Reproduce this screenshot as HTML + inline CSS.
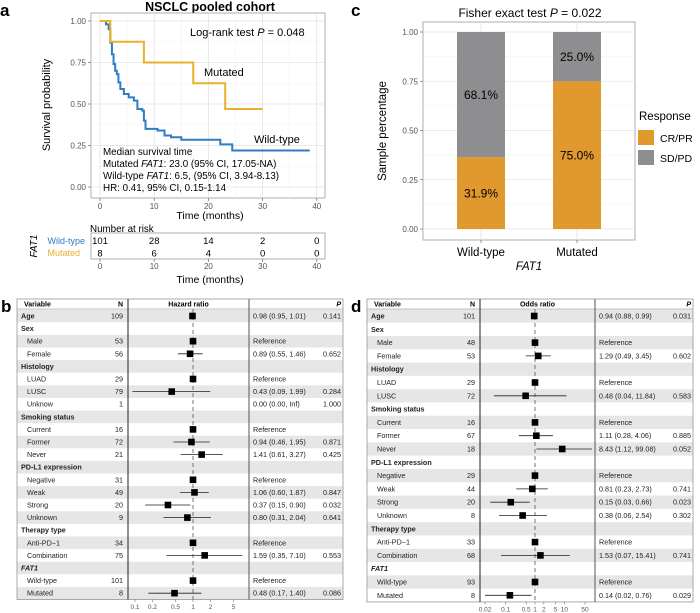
<!DOCTYPE html>
<html><head><meta charset="utf-8"><style>
body{margin:0;background:#fff}
svg{font-family:"Liberation Sans",Arial,sans-serif;display:block}
</style></head><body>
<svg id="fig" width="700" height="613" viewBox="0 0 700 613" xmlns="http://www.w3.org/2000/svg">
<g id="pa"></g>
<g id="pc"></g>
<g id="pb"></g>
<g id="pd"></g>
</svg>
<script>
// ---------- Panel a data ----------
const wtTimes=[0,1.1,1.6,1.9,2.2,2.5,2.8,3.1,3.4,3.75,4.4,5.3,6.25,6.9,7.8,8.1,8.4,10.6,11.9,13.1,15,22.2,24.4,38.7];
const wtSurv=[1,0.98,0.95,0.87,0.80,0.74,0.70,0.68,0.63,0.59,0.56,0.54,0.52,0.47,0.46,0.40,0.35,0.34,0.31,0.30,0.285,0.257,0.22,0.22];
const mutTimes=[0,1.9,8.1,17.2,23.1,30];
const mutSurv=[1,0.875,0.75,0.625,0.47,0.47];
const kmXTicks=[0,10,20,30,40];
const kmYTicks=[0,0.25,0.5,0.75,1];
const riskWT=[101,28,14,2,0];
const riskMut=[8,6,4,0,0];
// ---------- Panel c data ----------
const barCats=["Wild-type","Mutated"];
const crpr=[0.365,0.75];
const crprLabels=["31.9%","75.0%"];
const sdpdLabels=["68.1%","25.0%"];
const barYTicks=[0,0.25,0.5,0.75,1];
// ---------- Forest data ----------
const fVars=["Age","Sex","Male","Female","Histology","LUAD","LUSC","Unknow","Smoking status","Current","Former","Never","PD-L1 expression","Negative","Weak","Strong","Unknown","Therapy type","Anti-PD\u22121","Combination","FAT1","Wild-type","Mutated"];
const bN=["109","","53","56","","29","79","1","","16","72","21","","31","49","20","9","","34","75","","101","8"];
const bEst=[0.98,null,1,0.89,null,1,0.43,null,null,1,0.94,1.41,null,1,1.06,0.37,0.80,null,1,1.59,null,1,0.48];
const bLo=[0.95,null,null,0.55,null,null,0.09,null,null,null,0.46,0.61,null,null,0.60,0.15,0.31,null,null,0.35,null,null,0.17];
const bHi=[1.01,null,null,1.46,null,null,1.99,null,null,null,1.95,3.27,null,null,1.87,0.90,2.04,null,null,7.10,null,null,1.40];
const bTxt=["0.98 (0.95, 1.01)","","Reference","0.89 (0.55, 1.46)","","Reference","0.43 (0.09, 1.99)","0.00 (0.00, Inf)","","Reference","0.94 (0.46, 1.95)","1.41 (0.61, 3.27)","","Reference","1.06 (0.60, 1.87)","0.37 (0.15, 0.90)","0.80 (0.31, 2.04)","","Reference","1.59 (0.35, 7.10)","","Reference","0.48 (0.17, 1.40)"];
const bP=["0.141","","","0.652","","","0.284","1.000","","","0.871","0.425","","","0.847","0.032","0.641","","","0.553","","","0.086"];
const bTicks=[0.1,0.2,0.5,1,2,5];
const dVars=["Age","Sex","Male","Female","Histology","LUAD","LUSC","Smoking status","Current","Former","Never","PD-L1 expression","Negative","Weak","Strong","Unknown","Therapy type","Anti-PD\u22121","Combination","FAT1","Wild-type","Mutated"];
const dN=["101","","48","53","","29","72","","16","67","18","","29","44","20","8","","33","68","","93","8"];
const dEst=[0.94,null,1,1.29,null,1,0.48,null,1,1.11,8.43,null,1,0.81,0.15,0.38,null,1,1.53,null,1,0.14];
const dLo=[0.88,null,null,0.49,null,null,0.04,null,null,0.28,1.12,null,null,0.23,0.03,0.06,null,null,0.07,null,null,0.02];
const dHi=[0.99,null,null,3.45,null,null,11.84,null,null,4.06,99.08,null,null,2.73,0.66,2.54,null,null,15.41,null,null,0.76];
const dTxt=["0.94 (0.88, 0.99)","","Reference","1.29 (0.49, 3.45)","","Reference","0.48 (0.04, 11.84)","","Reference","1.11 (0.28, 4.06)","8.43 (1.12, 99.08)","","Reference","0.81 (0.23, 2.73)","0.15 (0.03, 0.66)","0.38 (0.06, 2.54)","","Reference","1.53 (0.07, 15.41)","","Reference","0.14 (0.02, 0.76)"];
const dP=["0.031","","","0.602","","","0.583","","","0.885","0.052","","","0.741","0.023","0.302","","","0.741","","","0.029"];
const dTicks=[0.02,0.1,0.5,1,2,5,10,50];
const bHeaders=["Sex","Histology","Smoking status","PD-L1 expression","Therapy type","FAT1"];

const NS="http://www.w3.org/2000/svg";
function mk(parent,tag,attrs,text){const e=document.createElementNS(NS,tag);for(const k in attrs)e.setAttribute(k,attrs[k]);if(text!==undefined)e.textContent=text;parent.appendChild(e);return e;}

// ================= Panel a =================
(function(){
const g=document.getElementById('pa');
const t=mk(g,'text',{x:0,y:16,'font-size':17,'font-weight':'bold'},'a');


const tt=mk(g,'text',{x:210,y:11,'font-size':12.5,'font-weight':'bold','text-anchor':'middle'},'NSCLC pooled cohort');


const X=v=>100+v*5.42, Y=v=>187-v*166;
mk(g,'rect',{x:91,y:13,width:234,height:185,fill:'#fff',stroke:'#999','stroke-width':0.8});
[5,15,25,35].forEach(v=>mk(g,'line',{x1:X(v),x2:X(v),y1:13,y2:198,stroke:'#f0f0f0','stroke-width':0.6}));
[0.125,0.375,0.625,0.875].forEach(v=>mk(g,'line',{x1:91,x2:325,y1:Y(v),y2:Y(v),stroke:'#f0f0f0','stroke-width':0.6}));
kmXTicks.forEach(v=>{mk(g,'line',{x1:X(v),x2:X(v),y1:13,y2:198,stroke:'#e3e3e3','stroke-width':0.8});
 mk(g,'line',{x1:X(v),x2:X(v),y1:198,y2:201,stroke:'#555','stroke-width':0.6});
 mk(g,'text',{x:X(v),y:209,'font-size':8,fill:'#555','text-anchor':'middle'},String(v));});
kmYTicks.forEach(v=>{mk(g,'line',{x1:91,x2:325,y1:Y(v),y2:Y(v),stroke:'#e3e3e3','stroke-width':0.8});
 mk(g,'line',{x1:88,x2:91,y1:Y(v),y2:Y(v),stroke:'#555','stroke-width':0.6});
 mk(g,'text',{x:86,y:Y(v)+3,'font-size':8,fill:'#555','text-anchor':'end'},v.toFixed(2));});
function step(ts,ss,color,name){let d=`M${X(ts[0])},${Y(ss[0])}`;for(let i=1;i<ts.length;i++){d+=` H${X(ts[i])} V${Y(ss[i])}`;}
 const p=mk(g,'path',{d:d,fill:'none',stroke:color,'stroke-width':2});
 
 }
step(wtTimes,wtSurv,'#2f7dc3','km-curve-wild-type');
step(mutTimes,mutSurv,'#e8b12a','km-curve-mutated');
mk(g,'text',{x:50,y:105,'font-size':11,'text-anchor':'middle',transform:'rotate(-90 50 105)'},'Survival probability');
mk(g,'text',{x:210,y:219,'font-size':10.5,'text-anchor':'middle'},'Time (months)');
mk(g,'text',{x:190,y:36,'font-size':11}).innerHTML='Log-rank test <tspan font-style="italic">P</tspan> = 0.048';
mk(g,'text',{x:204,y:76,'font-size':11},'Mutated');
mk(g,'text',{x:254,y:143,'font-size':11},'Wild-type');
const lines=['Median survival time','Mutated <tspan font-style="italic">FAT1</tspan>: 23.0 (95% CI, 17.05-NA)','Wild-type <tspan font-style="italic">FAT1</tspan>: 6.5, (95% CI, 3.94-8.13)','HR: 0.41, 95% CI, 0.15-1.14'];
lines.forEach((l,i)=>{const e=mk(g,'text',{x:103,y:155+i*12,'font-size':9.8});e.innerHTML=l;});
// risk table
mk(g,'text',{x:90,y:232,'font-size':9.8},'Number at risk');
mk(g,'rect',{x:91,y:233,width:234,height:26,fill:'#fff',stroke:'#999','stroke-width':0.8});
mk(g,'text',{x:85,y:244,'font-size':9,fill:'#2f7dc3','text-anchor':'end'},'Wild-type');
mk(g,'text',{x:80,y:256,'font-size':9,fill:'#e8b12a','text-anchor':'end'},'Mutated');
mk(g,'text',{x:37,y:246,'font-size':10,'font-style':'italic','text-anchor':'middle',transform:'rotate(-90 37 246)'},'FAT1');
kmXTicks.forEach((v,i)=>{mk(g,'text',{x:X(v),y:244,'font-size':9.5,'text-anchor':'middle'},String(riskWT[i]));
 mk(g,'text',{x:X(v),y:256.5,'font-size':9.5,'text-anchor':'middle'},String(riskMut[i]));
 mk(g,'line',{x1:X(v),x2:X(v),y1:259,y2:262,stroke:'#555','stroke-width':0.6});
 mk(g,'text',{x:X(v),y:269,'font-size':8,fill:'#555','text-anchor':'middle'},String(v));});
mk(g,'text',{x:210,y:283,'font-size':10.5,'text-anchor':'middle'},'Time (months)');
})();

// ================= Panel c =================
(function(){
const g=document.getElementById('pc');
const t=mk(g,'text',{x:351,y:16,'font-size':17,'font-weight':'bold'},'c');


const e=mk(g,'text',{x:530,y:17,'font-size':12,'text-anchor':'middle'});e.innerHTML='Fisher exact test <tspan font-style="italic">P</tspan> = 0.022';
const Y=v=>229-v*197;
const cx=[481,577], bw=48;
mk(g,'rect',{x:423,y:22,width:212,height:218,fill:'#fff',stroke:'#999','stroke-width':0.8});
[0.125,0.375,0.625,0.875].forEach(v=>mk(g,'line',{x1:423,x2:635,y1:Y(v),y2:Y(v),stroke:'#f0f0f0','stroke-width':0.6}));
barYTicks.forEach(v=>{mk(g,'line',{x1:423,x2:635,y1:Y(v),y2:Y(v),stroke:'#e3e3e3','stroke-width':0.8});
 mk(g,'line',{x1:420,x2:423,y1:Y(v),y2:Y(v),stroke:'#555','stroke-width':0.6});
 mk(g,'text',{x:418,y:Y(v)+3,'font-size':8,fill:'#555','text-anchor':'end'},v.toFixed(2));});
barCats.forEach((c,i)=>{
 mk(g,'line',{x1:cx[i],x2:cx[i],y1:22,y2:240,stroke:'#e3e3e3','stroke-width':0.8});
 const r1=mk(g,'rect',{x:cx[i]-bw/2,y:Y(crpr[i]),width:bw,height:Y(0)-Y(crpr[i]),fill:'#e0982f'});
 
 
 const r2=mk(g,'rect',{x:cx[i]-bw/2,y:Y(1),width:bw,height:Y(crpr[i])-Y(1),fill:'#8e8e91'});
 
 
 mk(g,'text',{x:cx[i],y:(Y(0)+Y(crpr[i]))/2+4.5,'font-size':12,'text-anchor':'middle'},crprLabels[i]);
 mk(g,'text',{x:cx[i],y:(Y(crpr[i])+Y(1))/2+4.5,'font-size':12,'text-anchor':'middle'},sdpdLabels[i]);
 mk(g,'line',{x1:cx[i],x2:cx[i],y1:240,y2:243,stroke:'#555','stroke-width':0.6});
 mk(g,'text',{x:cx[i],y:256,'font-size':11.5,'text-anchor':'middle'},c);});
mk(g,'text',{x:529,y:270,'font-size':11.5,'font-style':'italic','text-anchor':'middle'},'FAT1');
mk(g,'text',{x:386,y:131,'font-size':11.5,'text-anchor':'middle',transform:'rotate(-90 386 131)'},'Sample percentage');
mk(g,'text',{x:639,y:120,'font-size':11.5},'Response');
mk(g,'rect',{x:638,y:130,width:16,height:15,fill:'#e0982f'});
mk(g,'rect',{x:638,y:150,width:16,height:15,fill:'#8e8e91'});
mk(g,'text',{x:660,y:142,'font-size':10.5},'CR/PR');
mk(g,'text',{x:660,y:162,'font-size':10.5},'SD/PD');
})();

// ================= Forest plots =================
function forest(gid,label,ox,vars,Ns,est,lo,hi,txt,ps,ticks,title,cfg){
 const g=document.getElementById(gid);
 const L=mk(g,'text',{x:ox+1,y:312,'font-size':17,'font-weight':'bold'},label);
 
 
 const left=ox+17,right=ox+343,r0=316,dy=cfg.dy;
 const X=v=>cfg.x1+Math.log10(v)*cfg.dec;
 vars.forEach((v,i)=>{const y=r0+i*dy;
  if(i%2===0) mk(g,'rect',{x:left,y:y-dy/2,width:right-left,height:dy,fill:'#e6e6e6'});});
 const bottom=r0+(vars.length-0.5)*dy;
 mk(g,'rect',{x:left,y:299,width:right-left,height:bottom-299,fill:'none',stroke:'#888','stroke-width':0.7});
 mk(g,'line',{x1:left,x2:right,y1:309,y2:309,stroke:'#888','stroke-width':0.6});
 mk(g,'line',{x1:cfg.d1,x2:cfg.d1,y1:299,y2:bottom,stroke:'#222','stroke-width':1});
 mk(g,'line',{x1:cfg.d2,x2:cfg.d2,y1:299,y2:bottom,stroke:'#555','stroke-width':1});
 mk(g,'text',{x:left+7,y:306.5,'font-size':7,'font-weight':'bold'},'Variable');
 mk(g,'text',{x:cfg.nx,y:306.5,'font-size':7,'font-weight':'bold','text-anchor':'end'},'N');
 mk(g,'text',{x:(cfg.d1+cfg.d2)/2,y:306.5,'font-size':7,'font-weight':'bold','text-anchor':'middle'},title);
 mk(g,'text',{x:right-2,y:306.5,'font-size':7,'font-weight':'bold','font-style':'italic','text-anchor':'end'},'P');
 mk(g,'line',{x1:X(1),x2:X(1),y1:309,y2:bottom,stroke:'#666','stroke-width':0.9,'stroke-dasharray':'4,3'});
 vars.forEach((v,i)=>{const y=r0+i*dy+2.5;
  const hdr=bHeaders.includes(v)||v==='Age';
  mk(g,'text',{x:hdr?left+4:left+10,y:y,'font-size':7.2,'font-weight':hdr?'bold':'normal','font-style':v==='FAT1'?'italic':'normal',fill:'#222'},v);
  mk(g,'text',{x:cfg.nx,y:y,'font-size':7.2,'text-anchor':'end',fill:'#222'},Ns[i]);
  mk(g,'text',{x:cfg.d2+4,y:y,'font-size':7.2,fill:'#222'},txt[i]);
  mk(g,'text',{x:right-2,y:y,'font-size':7.2,'text-anchor':'end',fill:'#222'},ps[i]);
  const cy=r0+i*dy;
  if(lo[i]!==null){const ln=mk(g,'line',{x1:Math.max(X(lo[i]),cfg.d1+3),x2:Math.min(X(hi[i]),cfg.d2-3),y1:cy,y2:cy,stroke:'#222','stroke-width':0.8});
   
   }
  if(est[i]!==null){const s=mk(g,'rect',{x:X(est[i])-3.3,y:cy-3.3,width:6.6,height:6.6,fill:'#000'});
   
   }
 });
 ticks.forEach(t=>{mk(g,'line',{x1:X(t),x2:X(t),y1:bottom,y2:bottom+2.5,stroke:'#555','stroke-width':0.5});
  mk(g,'text',{x:X(t),y:bottom+9.5,'font-size':6.5,fill:'#555','text-anchor':'middle'},String(t));});
}
forest('pb','b',0,fVars,bN,bEst,bLo,bHi,bTxt,bP,bTicks,'Hazard ratio',{dy:12.6,x1:193,dec:58,d1:128,d2:249,nx:123});
forest('pd','d',350,dVars,dN,dEst,dLo,dHi,dTxt,dP,dTicks,'Odds ratio',{dy:13.3,x1:535,dec:29.4,d1:480,d2:595,nx:475});
</script>
</body></html>
